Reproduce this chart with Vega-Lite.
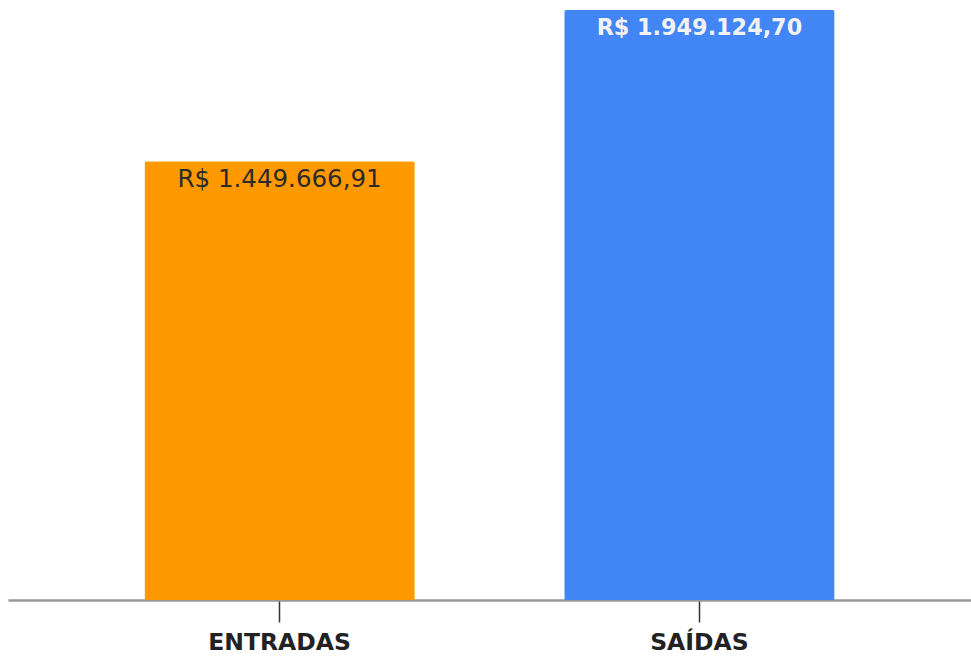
{
  "$schema": "https://vega.github.io/schema/vega-lite/v6.json",
  "width": 963,
  "height": 600,
  "autosize": {"type": "none"},
  "padding": {"left": 8, "top": 0, "right": 0, "bottom": 57},
  "background": "white",
  "config": {"view": {"stroke": null}, "font": "DejaVu Sans"},
  "data": {"values": [
    {"tipo": "ENTRADAS", "valor": 1449666.91, "rotulo": "R$ 1.449.666,91"},
    {"tipo": "SAÍDAS", "valor": 1949124.70, "rotulo": "R$ 1.949.124,70"}
  ]},
  "encoding": {
    "x": {
      "field": "tipo", "type": "nominal", "sort": null,
      "scale": {"paddingInner": 0.356, "paddingOuter": 0.325},
      "axis": {
        "title": null, "labelAngle": 0, "labelFontSize": 23.5, "labelFontWeight": "bold",
        "labelColor": "#222222", "labelFont": "DejaVu Sans", "labelPadding": 8,
        "tickSize": 22, "tickColor": "#333333", "tickWidth": 1.5,
        "domainColor": "#999999", "domainWidth": 2.5
      }
    },
    "y": {
      "field": "valor", "type": "quantitative",
      "scale": {"domain": [0, 1982160], "nice": false, "zero": true},
      "axis": null
    }
  },
  "layer": [
    {
      "mark": {"type": "bar", "cornerRadiusTopLeft": 2, "cornerRadiusTopRight": 2},
      "encoding": {
        "color": {
          "field": "tipo", "type": "nominal",
          "scale": {"domain": ["ENTRADAS", "SAÍDAS"], "range": ["#ff9900", "#4285f4"]},
          "legend": null
        }
      }
    },
    {
      "transform": [{"filter": "datum.tipo === 'ENTRADAS'"}],
      "mark": {"type": "text", "baseline": "top", "dy": 7, "fontSize": 24.5, "color": "#2a2a2a", "font": "DejaVu Sans"},
      "encoding": {"text": {"field": "rotulo"}}
    },
    {
      "transform": [{"filter": "datum.tipo === 'SAÍDAS'"}],
      "mark": {"type": "text", "baseline": "top", "dy": 7.5, "fontSize": 22.3, "fontWeight": "bold", "color": "#f2f2f2", "font": "DejaVu Sans"},
      "encoding": {"text": {"field": "rotulo"}}
    }
  ]
}
